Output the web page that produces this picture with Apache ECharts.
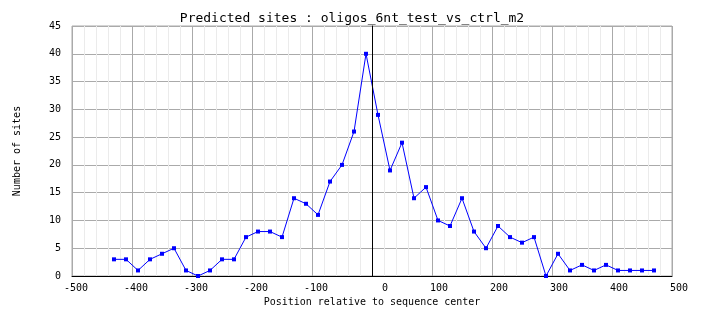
<!DOCTYPE html>
<html>
<head>
<meta charset="utf-8">
<script src="https://cdn.jsdelivr.net/npm/echarts@6/dist/echarts.min.js"></script>
<style>
  html, body { margin: 0; padding: 0; background: #ffffff; }
  #chart { width: 704px; height: 328px; }
</style>
</head>
<body>
<div id="chart"></div>
<script>
// Site positions (relative to sequence center) and site counts per bin
const positions = [
  -430, -410, -390, -370, -350, -330, -310, -290, -270, -250,
  -230, -210, -190, -170, -150, -130, -110, -90, -70, -50,
  -30, -10, 10, 30, 50, 70, 90, 110, 130, 150,
  170, 190, 210, 230, 250, 270, 290, 310, 330, 350,
  370, 390, 410, 430, 450, 470
];
const siteCounts = [
  3, 3, 1, 3, 4, 5, 1, 0, 1, 3,
  3, 7, 8, 8, 7, 14, 13, 11, 17, 20,
  26, 40, 29, 19, 24, 14, 16, 10, 9, 14,
  8, 5, 9, 7, 6, 7, 0, 4, 1, 2,
  1, 2, 1, 1, 1, 1
];
const xTickRange = [-500, 500];
const yTickRange = [0, 45];
const centerMark = 0;

const chartTitle = 'Predicted sites : oligos_6nt_test_vs_ctrl_m2';
const xAxisTitle = 'Position relative to sequence center';
const yAxisTitle = 'Number of sites';

const mono = '"DejaVu Sans Mono", "Liberation Mono", monospace';

const chart = echarts.init(document.getElementById('chart'), null, { renderer: 'canvas' });

chart.setOption({
  backgroundColor: '#ffffff',
  animation: false,
  title: {
    text: chartTitle,
    left: 'center',
    top: 7,
    textStyle: { fontFamily: mono, fontSize: 13, fontWeight: 'normal', color: '#000' }
  },
  grid: { left: 72, right: 32, top: 26, bottom: 52, show: true, borderColor: '#aaaaaa', borderWidth: 1 },
  xAxis: {
    type: 'value',
    min: xTickRange[0],
    max: xTickRange[1],
    interval: 100,
    name: xAxisTitle,
    nameLocation: 'middle',
    nameGap: 21,
    nameTextStyle: { fontFamily: mono, fontSize: 10, color: '#000' },
    axisLine: { show: true, onZero: false, lineStyle: { color: '#000', width: 1 } },
    axisTick: { show: false },
    axisLabel: {
      margin: 7,
      formatter: v => '{t|' + v + '}',
      rich: { t: { width: 32, align: 'right', fontFamily: mono, fontSize: 10, color: '#000' } }
    },
    splitLine: { show: true, lineStyle: { color: '#aaaaaa', width: 1 } },
    minorTick: { show: false, splitNumber: 5 },
    minorSplitLine: { show: true, lineStyle: { color: '#ebebeb', width: 1 } }
  },
  yAxis: {
    type: 'value',
    min: yTickRange[0],
    max: yTickRange[1],
    interval: 5,
    name: yAxisTitle,
    nameLocation: 'middle',
    nameGap: 50,
    nameTextStyle: { fontFamily: mono, fontSize: 10, color: '#000' },
    axisLine: { show: true, lineStyle: { color: '#000', width: 1 } },
    axisTick: { show: false },
    axisLabel: { margin: 11, fontFamily: mono, fontSize: 10, color: '#000' },
    splitLine: { show: true, lineStyle: { color: '#aaaaaa', width: 1 } }
  },
  series: [{
    type: 'line',
    data: positions.map((p, i) => [p, siteCounts[i]]),
    symbol: 'rect',
    symbolSize: 4,
    showAllSymbol: true,
    lineStyle: { color: '#0000ff', width: 1 },
    itemStyle: { color: '#0000ff' },
    markLine: {
      silent: true,
      symbol: 'none',
      label: { show: false },
      lineStyle: { color: '#000', width: 1, type: 'solid' },
      data: [{ xAxis: centerMark }]
    },
    z: 3
  }]
});
</script>
</body>
</html>
